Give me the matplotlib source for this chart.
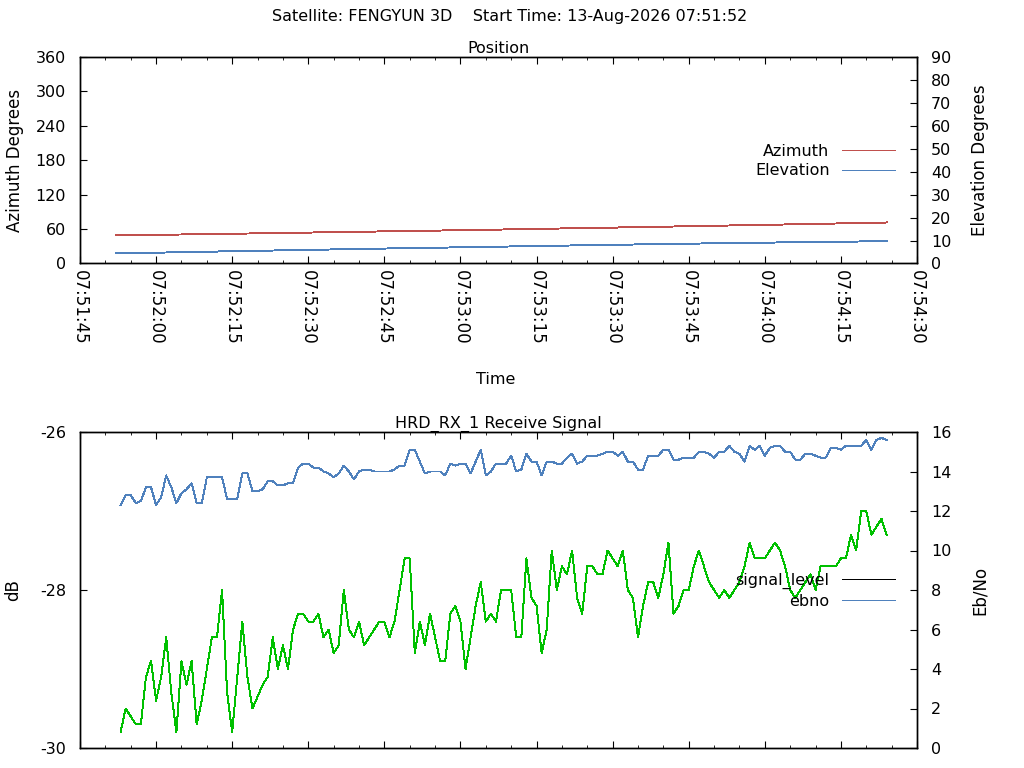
import datetime as dt
import matplotlib
matplotlib.use("Agg")
import matplotlib.pyplot as plt
import matplotlib.dates as mdates
import pandas as pd

plt.rcParams["font.family"] = ["DejaVu Sans"]
plt.rcParams["axes.unicode_minus"] = False

# --- data --------------------------------------------------------------
title = "Satellite: FENGYUN 3D    Start Time: 13-Aug-2026 07:51:52"
pass_start = dt.datetime(2026, 8, 13, 7, 51, 52)
rx_start = dt.datetime(2026, 8, 13, 7, 51, 53)
view_start = dt.datetime(2026, 8, 13, 7, 51, 45)
view_end = dt.datetime(2026, 8, 13, 7, 54, 30)

# position samples (seconds after pass start)
pos_offsets = [0, 10, 20, 30, 40, 50, 60, 70, 80, 90, 100, 110, 120, 130, 140, 150, 152]
azimuth = [48.9, 50.2, 51.5, 52.8, 54.2, 55.6, 56.9, 58.4, 59.8, 61.4,
           62.9, 64.5, 66.1, 67.7, 69.4, 71.1, 71.5]
elevation = [4.36, 4.80, 5.22, 5.62, 6.01, 6.41, 6.77, 7.13, 7.50, 7.86,
             8.21, 8.55, 8.86, 9.15, 9.42, 9.68, 9.72]

# receive signal, one sample per second from rx_start
ebno = [12.3, 12.8, 12.8, 12.4, 12.5, 13.2, 13.2, 12.3, 12.7, 13.8,
        13.2, 12.4, 12.9, 13.1, 13.4, 12.4, 12.4, 13.7, 13.7, 13.7,
        13.7, 12.6, 12.6, 12.6, 13.9, 13.9, 13.0, 13.0, 13.1, 13.5,
        13.5, 13.3, 13.3, 13.4, 13.4, 14.2, 14.4, 14.4, 14.2, 14.2,
        14.0, 13.9, 13.7, 13.9, 14.3, 14.0, 13.6, 14.0, 14.1, 14.1,
        14.0, 14.0, 14.0, 14.0, 14.1, 14.3, 14.3, 15.1, 15.1, 14.5,
        13.9, 14.0, 14.0, 14.0, 13.8, 14.4, 14.3, 14.4, 14.4, 13.9,
        14.5, 15.1, 13.8, 14.0, 14.4, 14.4, 14.4, 14.8, 14.0, 14.1,
        14.9, 14.5, 14.5, 13.8, 14.5, 14.5, 14.4, 14.4, 14.7, 14.9,
        14.4, 14.5, 14.8, 14.8, 14.8, 14.9, 15.0, 15.0, 14.8, 15.0,
        14.5, 14.5, 14.1, 14.1, 14.8, 14.8, 14.8, 15.1, 15.1, 14.6,
        14.6, 14.7, 14.7, 14.7, 15.0, 15.0, 14.9, 14.7, 15.0, 15.0,
        15.3, 15.0, 14.9, 14.5, 15.3, 15.1, 15.3, 14.8, 15.2, 15.3,
        15.3, 15.0, 15.0, 14.6, 14.6, 14.9, 14.9, 14.8, 14.7, 14.7,
        15.2, 15.2, 15.1, 15.3, 15.3, 15.3, 15.3, 15.6, 15.1, 15.6,
        15.7, 15.6]
green_trace = [0.8, 2.0, 1.6, 1.2, 1.2, 3.6, 4.4, 2.4, 3.6, 5.6,
               2.8, 0.8, 4.4, 3.2, 4.4, 1.2, 2.4, 4.0, 5.6, 5.6,
               8.0, 2.8, 0.8, 3.6, 6.4, 3.6, 2.0, 2.6, 3.2, 3.6,
               5.6, 4.0, 5.2, 4.0, 6.0, 6.8, 6.8, 6.4, 6.4, 6.8,
               5.6, 6.0, 4.8, 5.2, 8.0, 6.0, 5.6, 6.4, 5.2, 5.6,
               6.0, 6.4, 6.4, 5.6, 6.4, 8.0, 9.6, 9.6, 4.8, 6.4,
               5.2, 6.8, 5.6, 4.4, 4.4, 6.8, 7.2, 6.4, 4.0, 5.6,
               7.2, 8.4, 6.4, 6.8, 6.4, 8.0, 8.0, 8.0, 5.6, 5.6,
               9.6, 7.6, 7.2, 4.8, 6.0, 10.0, 8.0, 9.2, 8.8, 10.0,
               7.6, 6.8, 9.2, 9.2, 8.8, 8.8, 10.0, 9.6, 9.2, 10.0,
               8.0, 7.6, 5.6, 7.2, 8.4, 8.4, 7.6, 8.8, 10.4, 6.8,
               7.2, 8.0, 8.0, 9.2, 10.0, 9.2, 8.4, 8.0, 7.6, 8.0,
               7.6, 8.0, 8.4, 9.2, 10.4, 9.6, 9.6, 9.6, 10.0, 10.4,
               10.0, 9.2, 8.0, 7.6, 8.0, 8.4, 8.8, 8.0, 9.2, 9.2,
               9.2, 9.2, 9.6, 9.6, 10.8, 10.0, 12.0, 12.0, 10.8, 11.2,
               11.6, 10.8]
signal_level = []  # off scale in the reference, only its key shows

pos_times = [pass_start + dt.timedelta(seconds=s) for s in pos_offsets]
rx_times = pd.date_range(rx_start, periods=len(ebno), freq="s")

RED = "#c0504d"
BLUE = "#4f81bd"
GREEN = "#00c000"
FS = 11.5
LW = 0.7

fig = plt.figure(figsize=(10.24, 7.68), dpi=100)
fig.text(0.498, 1 - 17 / 768, title, ha="center", va="center", fontsize=FS)

ax1 = fig.add_axes([80 / 1024, 1 - 263.5 / 768, 837 / 1024, 206.5 / 768])
ax1r = ax1.twinx()
ax2 = fig.add_axes([80 / 1024, 1 - 748 / 768, 837 / 1024, 316 / 768])
ax2r = ax2.twinx()


def time_axis(ax, labels):
    ax.set_xlim(view_start, view_end)
    ax.xaxis.set_major_locator(mdates.SecondLocator(bysecond=[0, 15, 30, 45]))
    ax.xaxis.set_minor_locator(mdates.SecondLocator(bysecond=range(0, 60, 5)))
    ax.xaxis.set_major_formatter(mdates.DateFormatter("%H:%M:%S"))
    ax.tick_params(axis="x", which="both", direction="in", top=True,
                   labelbottom=labels, pad=5, labelsize=12)
    ax.tick_params(axis="x", which="major", length=5)
    ax.tick_params(axis="x", which="minor", length=2.4)
    if labels:
        for lbl in ax.get_xticklabels():
            lbl.set_rotation(-90)


def key(ax, handles, top_px):
    leg = ax.legend(handles=handles, loc="upper right", frameon=False,
                    bbox_to_anchor=(895 / 1024, 1 - top_px / 768),
                    bbox_transform=fig.transFigure, markerfirst=False, borderpad=0,
                    borderaxespad=0, handlelength=3.3, handletextpad=0.8,
                    labelspacing=0.28, fontsize=FS)
    for line in leg.get_lines():
        line.set_antialiased(False)
        line.set_linewidth(LW)


# --- position ---
l_az, = ax1.plot(pos_times, azimuth, color=RED, lw=LW, antialiased=False, label="Azimuth")
l_el, = ax1r.plot(pos_times, elevation, color=BLUE, lw=LW, antialiased=False, label="Elevation")
ax1.set_ylim(0, 360)
ax1.set_yticks(range(0, 361, 60))
ax1r.set_ylim(0, 90)
ax1r.set_yticks(range(0, 91, 10))
time_axis(ax1, True)
ax1.tick_params(axis="y", direction="in", length=5, pad=10, labelsize=FS)
ax1r.tick_params(axis="y", direction="in", length=5, pad=10, labelsize=FS)
ax1.set_title("Position", fontsize=FS, pad=3)
ax1.set_ylabel("Azimuth Degrees", fontsize=12)
ax1.yaxis.set_label_coords(-0.067, 0.5)
ax1r.set_ylabel("Elevation Degrees", fontsize=12)
ax1r.yaxis.set_label_coords(1.0645, 0.5)
ax1.set_xlabel("Time", fontsize=FS)
ax1.xaxis.set_label_coords(0.497, -0.525)
key(ax1r, [l_az, l_el], 144)

# --- receive signal ---
l_sig, = ax2.plot(rx_times[:len(signal_level)], signal_level, color="black", lw=LW,
                  label="signal_level")
ax2r.plot(rx_times, green_trace, color=GREEN, lw=LW, antialiased=False)
l_eb, = ax2r.plot(rx_times, ebno, color=BLUE, lw=LW, antialiased=False, label="ebno")
ax2.set_ylim(-30, -26)
ax2.set_yticks([-30, -28, -26])
ax2r.set_ylim(0, 16)
ax2r.set_yticks(range(0, 17, 2))
time_axis(ax2, False)
ax2.tick_params(axis="y", direction="in", length=5, pad=10, labelsize=FS)
ax2r.tick_params(axis="y", direction="in", length=5, pad=10, labelsize=FS)
ax2.set_title("HRD_RX_1 Receive Signal", fontsize=FS, pad=3)
ax2.set_ylabel("dB", fontsize=12)
ax2.yaxis.set_label_coords(-0.069, 0.5)
ax2r.set_ylabel("Eb/No", fontsize=12)
ax2r.yaxis.set_label_coords(1.0645, 0.5)
key(ax2r, [l_sig, l_eb], 573)

for ax in (ax1, ax1r, ax2, ax2r):
    for sp in ax.spines.values():
        sp.set_linewidth(1.0)

fig.savefig("out.png", dpi=100)
